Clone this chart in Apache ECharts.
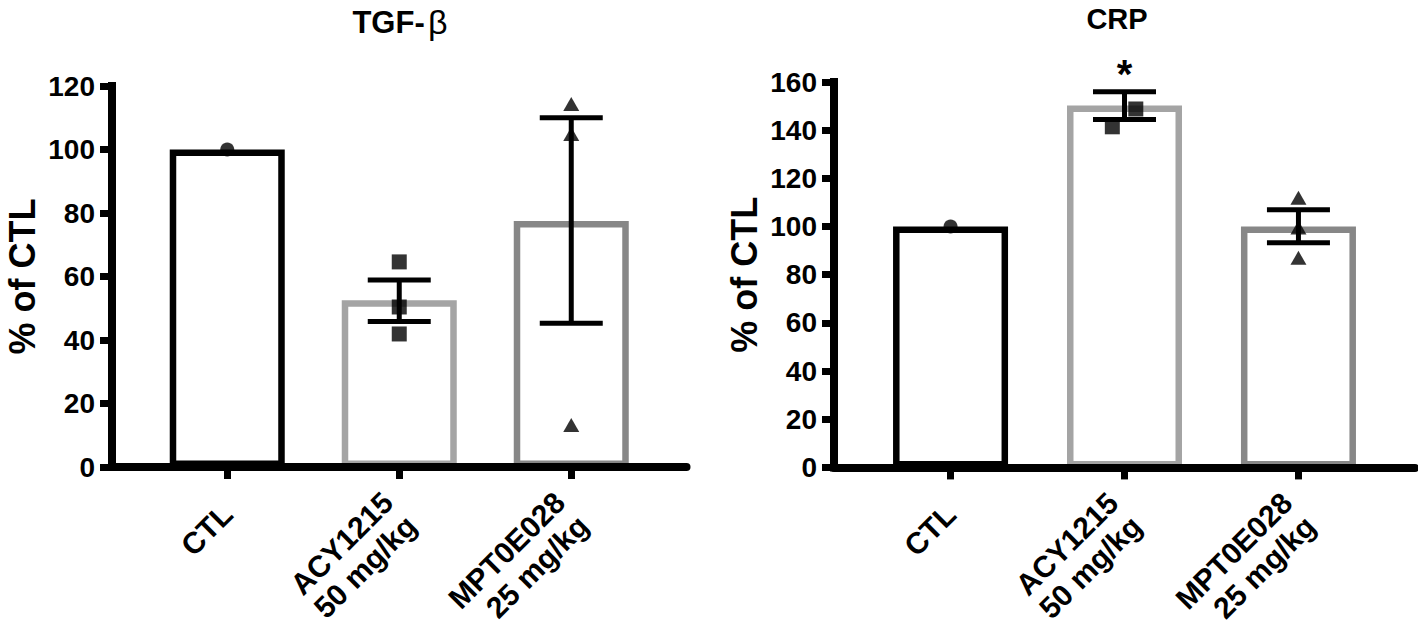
<!DOCTYPE html>
<html><head><meta charset="utf-8">
<script src="https://cdn.jsdelivr.net/npm/echarts@6/dist/echarts.min.js"></script>
<style>html,body{margin:0;padding:0;background:#fff}#c{width:1418px;height:641px}</style>
</head><body><div id="c"></div>
<script>
// ---- data ----
const categories = ['CTL', 'ACY1215\n50 mg/kg', 'MPT0E028\n25 mg/kg'];
const yAxisName = '% of CTL';
const tgfTitle = 'TGF-';
const tgfTitleGreek = 'β';
const crpTitle = 'CRP';

const tgfMax = 120;
const crpMax = 160;
const tickStep = 20;

const tgfMeans = [100, 52.5, 77.5];
const tgfErrLow = [null, 45.8, 45.3];
const tgfErrHigh = [null, 58.9, 110];
const tgfSig = ['', '', ''];
const tgfPoints = [[0, 100], [1, 64.6], [1, 50.4], [1, 41.9], [2, 114.3], [2, 104.9], [2, 13.2]];

const crpMeans = [100, 150.2, 100];
const crpErrLow = [null, 144.4, 93.3];
const crpErrHigh = [null, 156, 107];
const crpSig = ['', '*', ''];
const crpPoints = [[0, 100], [0.93, 141.4], [1.065, 148.8], [2, 112], [2, 99.6], [2, 87]];

// ---- styles ----
const FONT = "'Liberation Sans', Arial, Helvetica, sans-serif";
const barColors = ['#000000', '#a4a4a4', '#878787'];
const symbols = ['circle', 'rect', 'triangle'];
const symbolSizes = [14, 15, [16, 14]];

const chart = echarts.init(document.getElementById('c'), null, {renderer: 'svg'});

function xAxisCfg(gridIndex) {
  return {
    gridIndex, type: 'value', min: -0.67, max: 2.67, z: 5,
    splitLine: {show: false},
    axisLine: {show: true, onZero: false, lineStyle: {color: '#000', width: 8}},
    axisTick: {show: true, customValues: [0, 1, 2], length: 12, lineStyle: {color: '#000', width: 7}},
    axisLabel: {
      show: true, customValues: [0, 1, 2], rotate: 45, margin: 42,
      formatter: v => categories[Math.round(v)],
      color: '#000', fontSize: 30, fontWeight: 'bold', fontFamily: FONT, lineHeight: 33
    }
  };
}
function yAxisCfg(gridIndex, max) {
  return {
    gridIndex, type: 'value', min: 0, max, interval: tickStep, z: 5,
    name: yAxisName, nameLocation: 'middle', nameGap: 72,
    nameTextStyle: {color: '#000', fontSize: 36, fontWeight: 'bold', fontFamily: FONT},
    splitLine: {show: false},
    axisLine: {show: true, onZero: false, lineStyle: {color: '#000', width: 8, cap: 'square'}},
    axisTick: {show: true, length: 12, lineStyle: {color: '#000', width: 7}},
    axisLabel: {color: '#000', fontSize: 28, fontWeight: 'bold', fontFamily: FONT, margin: 17}
  };
}

function barData(means) {
  return means.map((m, i) => ({value: [i, m], itemStyle: {borderColor: barColors[i]}}));
}
function errData(lo, hi) {
  const out = [];
  lo.forEach((l, i) => { if (l != null) out.push([i, l, hi[i], i]); });
  return out;
}
function pointData(points) {
  return points.map(p => {
    const k = Math.round(p[0]);
    return {value: p, symbol: symbols[k], symbolSize: symbolSizes[k]};
  });
}
function errRender(sig) {
  return function (params, api) {
    const x = api.value(0), lo = api.value(1), hi = api.value(2), k = api.value(3);
    const pLo = api.coord([x, lo]), pHi = api.coord([x, hi]);
    const hw = 31.5;
    const st = {stroke: '#000', lineWidth: 5};
    const ch = [
      {type: 'line', shape: {x1: pLo[0], y1: pLo[1], x2: pHi[0], y2: pHi[1]}, style: st},
      {type: 'line', shape: {x1: pLo[0] - hw, y1: pLo[1], x2: pLo[0] + hw, y2: pLo[1]}, style: st},
      {type: 'line', shape: {x1: pHi[0] - hw, y1: pHi[1], x2: pHi[0] + hw, y2: pHi[1]}, style: st}
    ];
    const s = sig[k];
    if (s) ch.push({type: 'text', x: pHi[0], y: pHi[1] - 18,
      style: {text: s, fill: '#000', font: 'bold 40px ' + FONT, align: 'center', verticalAlign: 'middle'}});
    return {type: 'group', children: ch};
  };
}

function seriesFor(idx, means, lo, hi, sig, pts) {
  return [
    {type: 'bar', xAxisIndex: idx, yAxisIndex: idx, barWidth: 115, z: 2,
     itemStyle: {color: '#fff', borderWidth: 6.5}, data: barData(means), silent: true},
    {type: 'custom', xAxisIndex: idx, yAxisIndex: idx, z: 3,
     renderItem: errRender(sig), data: errData(lo, hi), silent: true},
    {type: 'scatter', xAxisIndex: idx, yAxisIndex: idx, z: 4,
     itemStyle: {color: '#000'}, data: pointData(pts), silent: true}
  ];
}

chart.setOption({
  animation: false,
  backgroundColor: '#fff',
  grid: [
    {left: 112, top: 86, width: 574.5, height: 381},
    {left: 834, top: 82, width: 581, height: 386}
  ],
  xAxis: [xAxisCfg(0), xAxisCfg(1)],
  yAxis: [yAxisCfg(0, tgfMax), yAxisCfg(1, crpMax)],
  graphic: [
    {type: 'text', x: 400, y: 22, style: {
      text: '{a|' + tgfTitle + '} {b|' + tgfTitleGreek + '}', align: 'center', verticalAlign: 'middle',
      rich: {a: {fontSize: 31, fontWeight: 'bold', fontFamily: FONT, fill: '#000'},
             b: {fontSize: 34, fontWeight: 'normal', fontFamily: FONT, fill: '#000'}}}},
    {type: 'text', x: 1117, y: 19, style: {
      text: crpTitle, align: 'center', verticalAlign: 'middle', fill: '#000',
      font: 'bold 29px ' + FONT}}
  ],
  series: [
    ...seriesFor(0, tgfMeans, tgfErrLow, tgfErrHigh, tgfSig, tgfPoints),
    ...seriesFor(1, crpMeans, crpErrLow, crpErrHigh, crpSig, crpPoints)
  ]
});
</script></body></html>
